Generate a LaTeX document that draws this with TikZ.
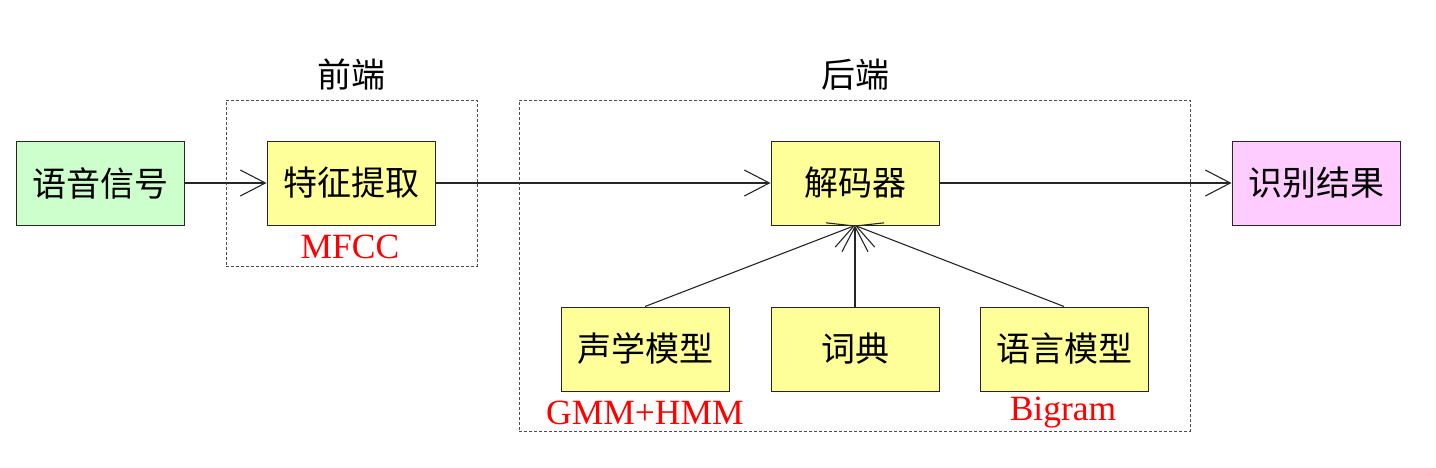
\documentclass[tikz,border=0pt]{standalone}
\usepackage{fontspec}
\setmainfont{Liberation Serif}
\newfontfamily\cjk{Noto Sans CJK SC}
\usetikzlibrary{arrows.meta}
\definecolor{gfill}{HTML}{CCFFCC}
\definecolor{yfill}{HTML}{FFFF99}
\definecolor{pfill}{HTML}{FFCCFF}
\begin{document}
\begin{tikzpicture}[x=1pt,y=-1pt,
  blk/.style={draw=black!85, line width=1pt, minimum width=168pt, minimum height=84pt, inner sep=0pt, font=\fontsize{34}{38}\selectfont\cjk},
  grp/.style={draw=black!70, dash pattern=on 3pt off 2pt, line width=1pt},
  arr/.style={draw=black!85, line width=1.1pt, -{Straight Barb[length=25pt,width=26pt,line width=1.1pt]}},
  lbl/.style={font=\fontsize{34}{38}\selectfont\cjk},
  red/.style={text=red, font=\fontsize{35.5}{40}\selectfont}]
\useasboundingbox (0,0) rectangle (1436,467);
\fill[white] (0,0) rectangle (1436,467);
\node[grp, minimum width=251pt, minimum height=166pt, inner sep=0pt] (front) at (351.5,183) {};
\node[grp, minimum width=671pt, minimum height=331pt, inner sep=0pt] (back) at (854.5,265.5) {};
\node[lbl] (tfront) at (351,75) {前端};
\node[lbl] (tback) at (855,75) {后端};
\node[blk, fill=gfill] (sig) at (100,183) {语音信号};
\node[blk, fill=yfill] (feat) at (351,183) {特征提取};
\node[blk, fill=yfill] (dec) at (855,183) {解码器};
\node[blk, fill=pfill] (res) at (1316,183) {识别结果};
\node[blk, fill=yfill] (am) at (645,349) {声学模型};
\node[blk, fill=yfill] (lex) at (855,349) {词典};
\node[blk, fill=yfill] (lm) at (1064,349) {语言模型};
\node[red] (mfcc) at (350,247) {MFCC};
\node[red] (gmm) at (645,413) {GMM+HMM};
\node[red] (bigram) at (1063,413) {Bigram};
\draw[arr] (sig) -- (feat);
\draw[arr] (feat) -- (dec);
\draw[arr] (dec) -- (res);
\draw[arr] (am.north) -- (dec.south);
\draw[arr] (lex.north) -- (dec.south);
\draw[arr] (lm.north) -- (dec.south);
\end{tikzpicture}
\end{document}
